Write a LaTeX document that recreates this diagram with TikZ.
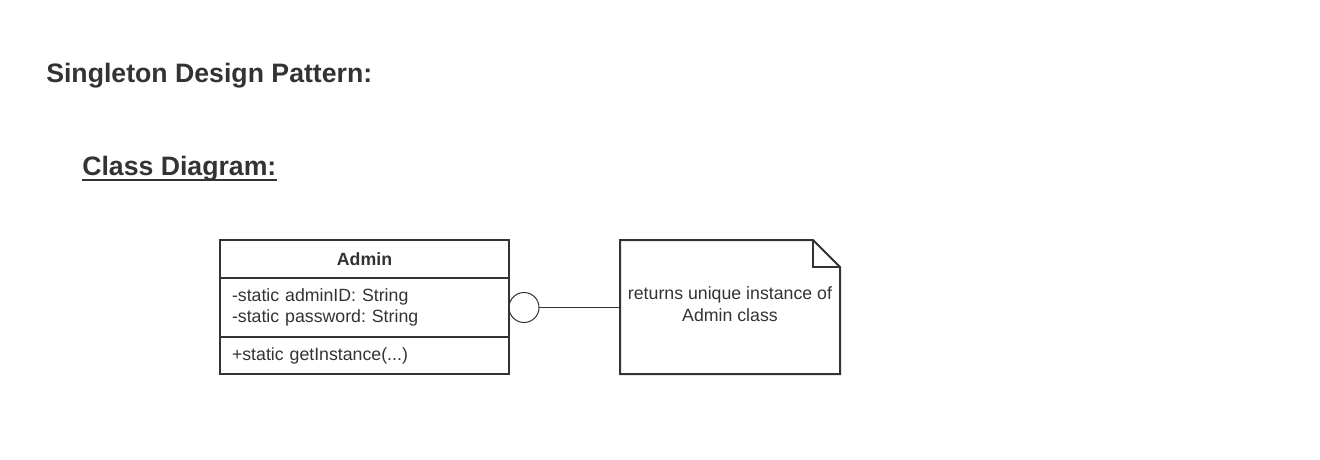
\documentclass[tikz,border=0pt]{standalone}
\usepackage{fontspec}
\setmainfont{Liberation Sans}
\usetikzlibrary{positioning}
\definecolor{ink}{RGB}{51,51,51}
\frenchspacing

\begin{document}
\begin{tikzpicture}[
  x=0.75pt, y=-0.75pt,
  heading/.style={
    anchor=base west, inner sep=0pt,
    font=\fontsize{20}{24}\selectfont\bfseries, text=ink
  },
  classpart/.style={
    draw=ink, line width=1.5pt, outer sep=0pt,
    minimum width=216.75pt, text width=198.75pt,
    inner xsep=9pt, inner ysep=0pt,
    font=\fontsize{13.3}{15.75}\selectfont, text=ink, align=left
  },
  port/.style={
    circle, draw=ink, line width=0.75pt,
    minimum size=22.5pt, inner sep=0pt, outer sep=0pt
  },
  notebox/.style={
    minimum width=165pt, minimum height=100.5pt,
    inner sep=0pt, outer sep=0pt
  },
  notetext/.style={
    inner sep=0pt, align=center,
    font=\fontsize{13.3}{16.5}\selectfont, text=ink
  },
  link/.style={draw=ink, line width=0.75pt}
]
\useasboundingbox (0,0) rectangle (1320,460);

% Headings.
\node[heading] (title) at (46,83) {Singleton Design Pattern:};
\node[heading] (sub) at (82,175) {Class Diagram:};
\draw[ink, line width=1.5pt]
  ([yshift=-4pt]sub.base west) -- ([yshift=-4pt]sub.base east);

% Admin class: name, attributes, operations.
\node[classpart, align=center, font=\fontsize{13.3}{15.75}\selectfont\bfseries,
  minimum height=28.5pt] (admin) at (364.5,259) {Admin};
\node[classpart, minimum height=44.25pt, below=0pt of admin] (attrs)
  {-static adminID: String\\-static password: String};
\node[classpart, minimum height=27.75pt, below=0pt of attrs] (ops)
  {+static getInstance(...)};

% Provided interface and the attached note.
\node[port, right=0pt of attrs] (iface) {};
\node[notebox, label={[notetext, yshift=2.25pt]center:{returns unique instance of\\Admin class}}]
  (note) at (730,307) {};
\draw[ink, line width=1.5pt]
  ([xshift=-20.25pt]note.north east) -- (note.north west)
  -- (note.south west) -- (note.south east)
  -- ([yshift=-20.25pt]note.north east) -- cycle;
\draw[ink, line width=1pt]
  ([xshift=-20.25pt]note.north east) |- ([yshift=-20.25pt]note.north east);

\draw[link] (iface.east) -- (iface.east -| note.west);

\end{tikzpicture}
\end{document}
